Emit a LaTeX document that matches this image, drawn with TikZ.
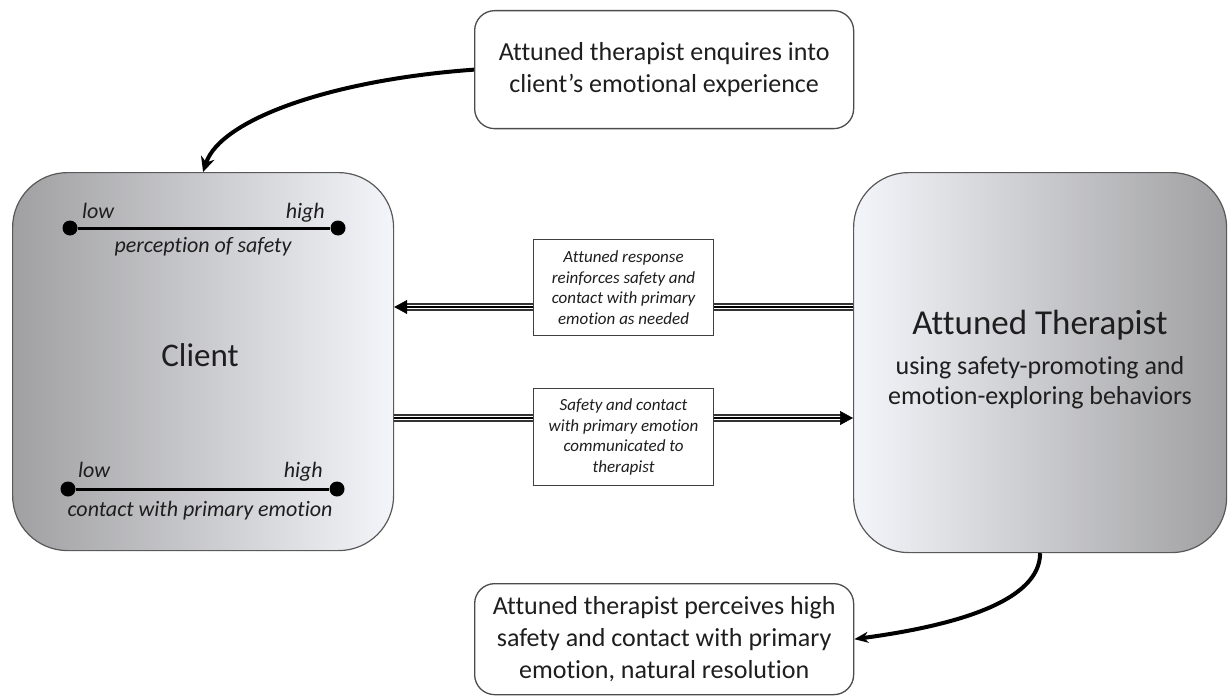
\documentclass[tikz,border=0pt]{standalone}
\usepackage{fontspec}
\setmainfont{Carlito}[Ligatures=NoCommon]
\usetikzlibrary{arrows.meta,calc}
\definecolor{gdark}{RGB}{160,160,162}
\definecolor{glight}{RGB}{244,245,250}
\definecolor{txt}{RGB}{30,30,30}
\begin{document}
\begin{tikzpicture}[x=1pt,y=-1pt,
  bigbox/.style={draw=black!65, line width=1.2pt, rounded corners=55pt, inner sep=0pt, anchor=north west},
  roundbox/.style={draw=black!70, line width=1.3pt, rounded corners=20pt, fill=white, inner sep=0pt, anchor=north west,
     align=center, text=txt, font=\fontsize{26}{32}\selectfont},
  labelbox/.style={draw=black!75, line width=1.1pt, fill=white, inner sep=0pt, anchor=north west,
     align=center, text=txt, font=\fontsize{17}{20.5}\selectfont\itshape},
  dot/.style={circle, fill=black, minimum size=15pt, inner sep=0pt},
  scaletxt/.style={text=txt, font=\fontsize{22}{26}\selectfont\itshape, inner sep=0pt},
  tripleline/.style={line width=7.5pt, draw=black!80, postaction={draw=white, line width=4.6pt}, postaction={draw=black, line width=1.5pt}},
  curvearrow/.style={line width=4pt, draw=black},
  txt/.style={text=txt}
]
\useasboundingbox (0,0) rectangle (1228,698);

% main boxes
\node[bigbox, left color=gdark, right color=glight, minimum width=381pt, minimum height=378pt] (client) at (12,172) {};
\node[bigbox, left color=glight, right color=gdark, minimum width=373pt, minimum height=380pt] (ther) at (853,172) {};

% client contents
\node[txt, font=\fontsize{33}{36}\selectfont] (clientlbl) at (200,355) {Client};
\node[dot] (d1) at (70,228) {};
\node[dot] (d2) at (338,228) {};
\draw[line width=3pt] (d1) -- (d2);
\node[scaletxt, anchor=base west] (low1) at (82,218) {low};
\node[scaletxt, anchor=base east] (high1) at (325,218) {high};
\node[scaletxt, anchor=base] (saf) at (203,252) {perception of safety};
\node[dot] (d3) at (68,489) {};
\node[dot] (d4) at (337,489) {};
\draw[line width=3pt] (d3) -- (d4);
\node[scaletxt, anchor=base west] (low2) at (78,477) {low};
\node[scaletxt, anchor=base east] (high2) at (323,477) {high};
\node[scaletxt, anchor=base] (con) at (200,516) {contact with primary emotion};

% therapist contents
\node[txt, font=\fontsize{35}{38}\selectfont] (thertitle) at (1040,325) {Attuned Therapist};
\node[txt, align=center, font=\fontsize{26}{30}\selectfont] (thersub) at (1040,383) {using safety-promoting and\\emotion-exploring behaviors};

% top and bottom boxes
\node[roundbox, minimum width=379pt, minimum height=118pt] (top) at (474,10) {Attuned therapist enquires into\\client’s emotional experience};
\node[roundbox, minimum width=379pt, minimum height=111pt] (bot) at (474,583) {Attuned therapist perceives high\\safety and contact with primary\\emotion, natural resolution};

% curved arrows
\draw[curvearrow, -{Stealth[length=15pt,width=14pt]}] (top.west) .. controls (330,80) and (220,120) .. (client.north);
\draw[curvearrow, -{Stealth[length=14pt,width=11pt]}] (ther.south) .. controls (1040,600) and (960,625) .. (bot.east);

% triple-line arrows
\coordinate (a1end) at (client.east |- 0,307);
\coordinate (a1tip) at ($(a1end)+(12,0)$);
\draw[tripleline] (ther.west |- 0,307) -- (a1tip);
\draw[line width=0.5pt, -{Triangle[length=13pt,width=14pt]}] (a1tip) -- (a1end);

\coordinate (a2end) at (ther.west |- 0,418);
\coordinate (a2tip) at ($(a2end)+(-12,0)$);
\draw[tripleline] (client.east |- 0,418) -- (a2tip);
\draw[line width=0.5pt, -{Triangle[length=13pt,width=14pt]}] (a2tip) -- (a2end);

% label boxes
\node[labelbox, minimum width=180pt, minimum height=96pt] (lab1) at (533,239) {Attuned response\\reinforces safety and\\contact with primary\\emotion as needed};
\node[labelbox, minimum width=180pt, minimum height=97pt] (lab2) at (533,388) {Safety and contact\\with primary emotion\\communicated to\\therapist};
\end{tikzpicture}
\end{document}
